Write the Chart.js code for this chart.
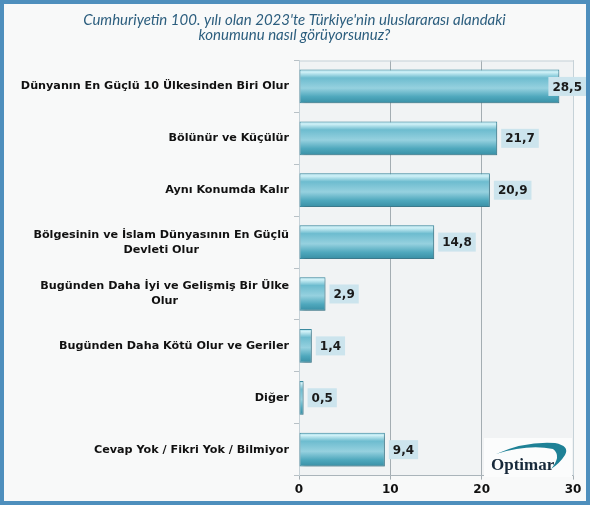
<!DOCTYPE html>
<html>
<head>
<meta charset="utf-8">
<script src="https://cdn.jsdelivr.net/npm/chart.js@4.4.0/dist/chart.umd.min.js"></script>
<style>
  html, body { margin: 0; padding: 0; background: #fff; }
  #wrap { width: 590px; height: 505px; }
</style>
</head>
<body>
<div id="wrap"><canvas id="myChart" width="590" height="505"></canvas></div>
<script>
const titleLines = [
  "Cumhuriyetin 100. yılı olan 2023'te Türkiye'nin uluslararası alandaki",
  "konumunu nasıl görüyorsunuz?",
];
const categories = [
  ["Dünyanın En Güçlü 10 Ülkesinden Biri Olur"],
  ["Bölünür ve Küçülür"],
  ["Aynı Konumda Kalır"],
  ["Bölgesinin ve İslam Dünyasının En Güçlü", "Devleti Olur"],
  ["Bugünden Daha İyi ve Gelişmiş Bir Ülke", "Olur"],
  ["Bugünden Daha Kötü Olur ve Geriler"],
  ["Diğer"],
  ["Cevap Yok / Fikri Yok / Bilmiyor"],
];
const values = [28.5, 21.7, 20.9, 14.8, 2.9, 1.4, 0.5, 9.4];
const xTicks = [0, 10, 20, 30];

Chart.defaults.font.family = '"DejaVu Sans", Verdana, sans-serif';

// arka plan, çerçeve ve çizim alanı
const backgroundPlugin = {
  id: "bg",
  beforeDraw(chart) {
    const { ctx, width, height, chartArea } = chart;
    ctx.save();
    ctx.fillStyle = "#f8f9f9";
    ctx.fillRect(0, 0, width, height);
    ctx.fillStyle = "#f1f3f4";
    ctx.fillRect(chartArea.left, chartArea.top, chartArea.right - chartArea.left, chartArea.bottom - chartArea.top);
    ctx.strokeStyle = "#4e8fbd";
    ctx.lineWidth = 4;
    ctx.strokeRect(2, 2, width - 4, height - 4);
    ctx.restore();
  },
  beforeDatasetsDraw(chart) {
    const { ctx, chartArea } = chart;
    ctx.save();
    ctx.strokeStyle = "#c6d2d8";
    ctx.lineWidth = 1;
    ctx.beginPath();
    ctx.moveTo(chartArea.left, chartArea.top + 0.5);
    ctx.lineTo(chartArea.right + 0.5, chartArea.top + 0.5);
    ctx.lineTo(chartArea.right + 0.5, chartArea.bottom);
    ctx.stroke();
    ctx.restore();
  },
};

// çubuk gölgesi
const shadowPlugin = {
  id: "barShadow",
  beforeDatasetDraw(chart) {
    const { ctx } = chart;
    ctx.save();
    ctx.shadowColor = "rgba(60, 70, 80, 0.35)";
    ctx.shadowOffsetX = 2;
    ctx.shadowOffsetY = 2;
    ctx.shadowBlur = 3;
  },
  afterDatasetDraw(chart) {
    chart.ctx.restore();
  },
};

// kategori etiketleri (çok satırlılar ortalı)
const catLabelPlugin = {
  id: "catLabels",
  afterDraw(chart) {
    const { ctx } = chart;
    const y = chart.scales.y;
    const right = chart.chartArea.left - 10;
    ctx.save();
    ctx.font = 'bold 11.2px "DejaVu Sans"';
    ctx.fillStyle = "#111";
    ctx.textAlign = "center";
    ctx.textBaseline = "middle";
    categories.forEach((lines, i) => {
      const w = Math.max(...lines.map((l) => ctx.measureText(l).width));
      const cx = right - w / 2;
      const yc = y.getPixelForValue(i);
      const lh = 15;
      lines.forEach((l, k) => {
        ctx.fillText(l, cx, yc + (k - (lines.length - 1) / 2) * lh);
      });
    });
    ctx.restore();
  },
};

// değer kutuları
const valueLabelPlugin = {
  id: "valueLabels",
  afterDatasetsDraw(chart) {
    const { ctx } = chart;
    const meta = chart.getDatasetMeta(0);
    ctx.save();
    ctx.font = 'bold 12px "DejaVu Sans"';
    ctx.textBaseline = "middle";
    meta.data.forEach((bar, i) => {
      const txt = values[i].toFixed(1).replace(".", ",");
      const w = ctx.measureText(txt).width + 8;
      const h = 19;
      let x0 = bar.x + 4;
      if (x0 + w > 586) x0 = 586 - w;
      ctx.fillStyle = "#cce4ed";
      ctx.fillRect(x0, bar.y - h / 2, w, h);
      ctx.fillStyle = "#1a1a1a";
      ctx.fillText(txt, x0 + 4, bar.y + 1);
    });
    ctx.restore();
  },
};

// Optimar logosu
const logoPlugin = {
  id: "logo",
  afterDraw(chart) {
    const { ctx } = chart;
    ctx.save();
    ctx.fillStyle = "#fbfcfc";
    ctx.fillRect(484, 438, 88, 39);
    ctx.fillStyle = "#1e8196";
    ctx.beginPath();
    ctx.moveTo(496, 454);
    ctx.quadraticCurveTo(525, 441, 555, 443);
    ctx.quadraticCurveTo(570, 446, 565, 455);
    ctx.quadraticCurveTo(560, 463, 551, 469);
    ctx.quadraticCurveTo(562, 456, 553, 449);
    ctx.quadraticCurveTo(528, 444, 496, 454);
    ctx.fill();
    ctx.fillStyle = "#17293a";
    ctx.font = 'bold 17px "Liberation Serif", serif';
    ctx.textBaseline = "alphabetic";
    ctx.fillText("Optimar", 491, 470);
    ctx.restore();
  },
};

const ctx = document.getElementById("myChart");

new Chart(ctx, {
  type: "bar",
  data: {
    labels: categories,
    datasets: [
      {
        data: values,
        backgroundColor: function (c) {
          const chart = c.chart;
          if (!chart.chartArea || c.dataIndex === undefined) return "#6bbccf";
          const yc = chart.scales.y.getPixelForValue(c.dataIndex);
          const g = chart.ctx.createLinearGradient(0, yc - 17, 0, yc + 17);
          g.addColorStop(0, "#9bd9e8");
          g.addColorStop(0.08, "#d0f1f7");
          g.addColorStop(0.25, "#6dbccf");
          g.addColorStop(0.55, "#96d1df");
          g.addColorStop(0.8, "#4fa8bd");
          g.addColorStop(1, "#388ea4");
          return g;
        },
        borderColor: "#3c8ba0",
        borderWidth: 1,
        borderSkipped: false,
        barPercentage: 0.65,
        categoryPercentage: 1,
      },
    ],
  },
  options: {
    indexAxis: "y",
    responsive: false,
    animation: false,
    layout: { padding: { left: 0, right: 1, top: 0, bottom: 5 } },
    plugins: {
      legend: { display: false },
      tooltip: { enabled: false },
      title: {
        display: true,
        text: titleLines,
        color: "#2c5e7e",
        font: { family: "Lato", size: 15, style: "italic", weight: "normal", lineHeight: 1.05 },
        padding: { top: 12, bottom: 17 },
      },
    },
    scales: {
      x: {
        min: 0,
        max: 30,
        afterBuildTicks: (s) => { s.ticks = xTicks.map((v) => ({ value: v })); },
        ticks: { color: "#111", font: { size: 12, weight: "bold" }, padding: 3 },
        grid: { color: "#a4adb2", lineWidth: 1, tickLength: 4 },
        border: { color: "#aab4ba" },
      },
      y: {
        ticks: { display: false },
        afterFit: (s) => { s.width = 299; },
        grid: { drawOnChartArea: false, tickLength: 5, color: "#b8c1c6", offset: true },
        border: { color: "#c6d2d8" },
      },
      y2: {
        type: "linear",
        position: "right",
        min: 0,
        max: 1,
        ticks: { display: false },
        grid: { display: false },
        border: { display: false },
        afterFit: (s) => { s.width = 16; },
      },
    },
  },
  plugins: [backgroundPlugin, shadowPlugin, catLabelPlugin, valueLabelPlugin, logoPlugin],
});
</script>
</body>
</html>
